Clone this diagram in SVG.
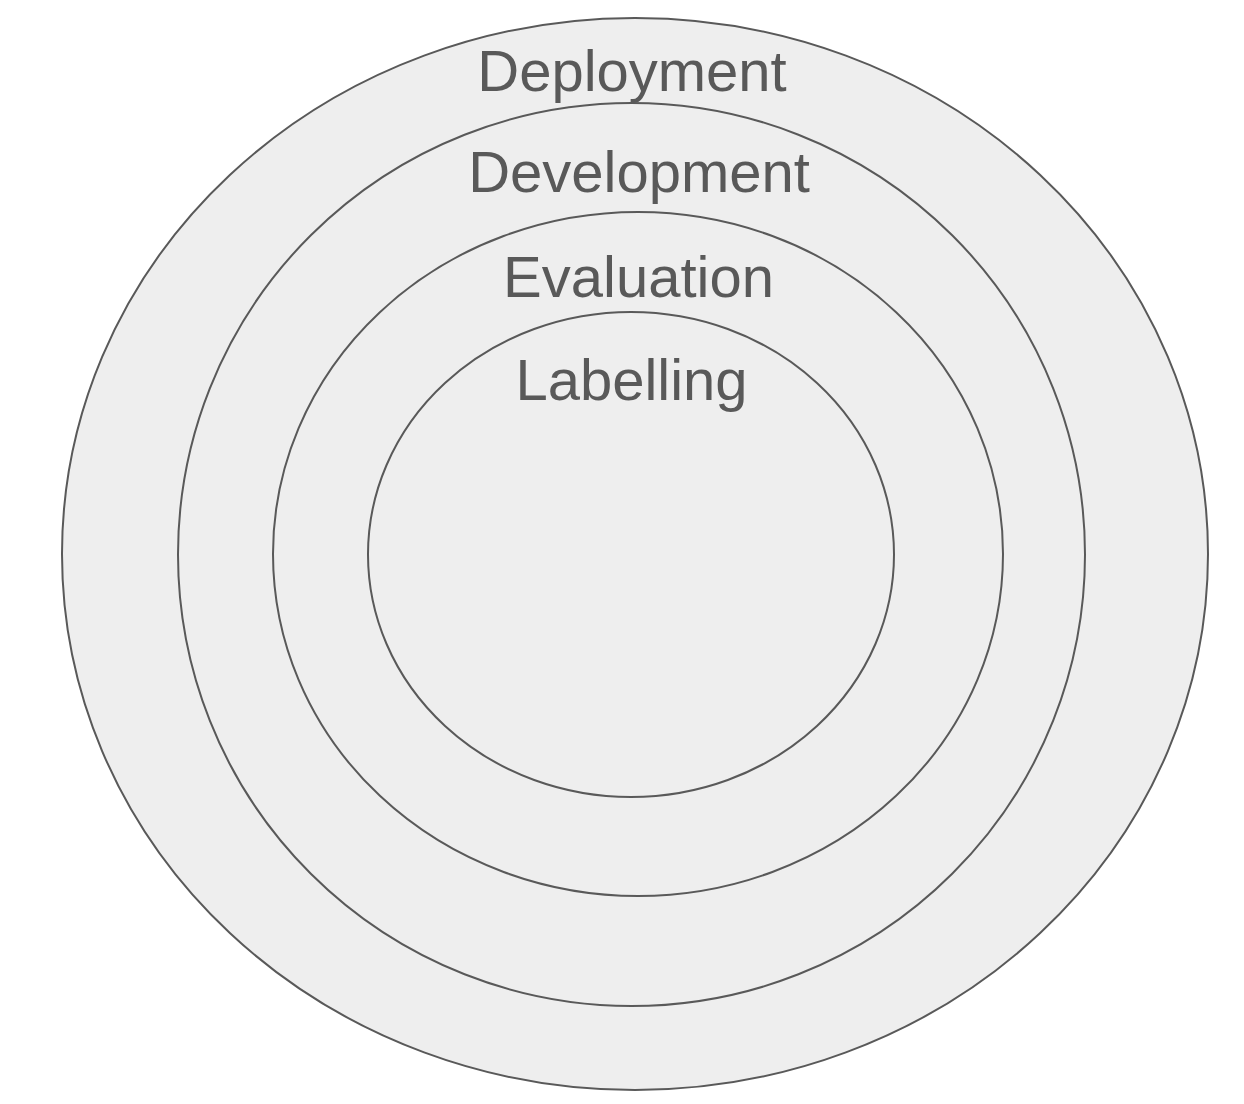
<svg xmlns="http://www.w3.org/2000/svg" width="1244" height="1104" viewBox="0 0 1244 1104">
<style>
.ring{fill:#eeeeee;stroke:#595959;stroke-width:2}
.lbl{font-family:"Liberation Sans",Arial,sans-serif;font-size:58px;fill:#595959;text-anchor:middle}
</style>
<rect width="1244" height="1104" fill="#ffffff"/>
<g id="deployment">
<ellipse class="ring" cx="635" cy="554" rx="573" ry="536"/>
<text class="lbl" x="632" y="91">Deployment</text>
</g>
<g id="development">
<ellipse class="ring" cx="631.5" cy="554.5" rx="453.5" ry="451.5"/>
<text class="lbl" x="639" y="192">Development</text>
</g>
<g id="evaluation">
<ellipse class="ring" cx="638" cy="554" rx="365" ry="342"/>
<text class="lbl" x="638.5" y="297">Evaluation</text>
</g>
<g id="labelling">
<ellipse class="ring" cx="631" cy="554.5" rx="263" ry="242.5"/>
<text class="lbl" x="631.5" y="400">Labelling</text>
</g>
<g id="connectors"/>
</svg>
